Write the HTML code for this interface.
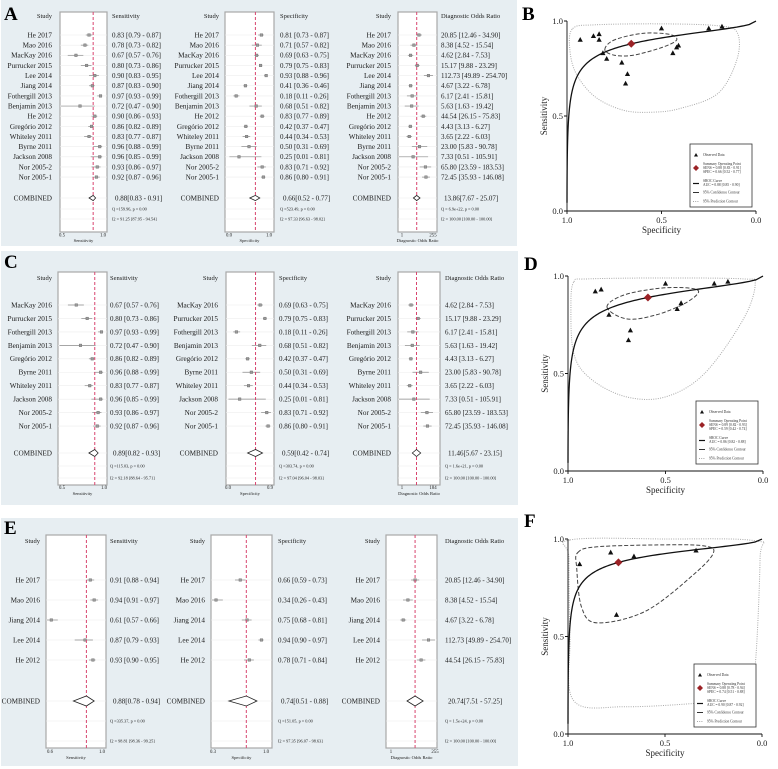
<!DOCTYPE html>
<html><head><meta charset="utf-8"><style>
html,body{margin:0;padding:0;background:#fff;}
svg{display:block;font-family:"Liberation Serif","DejaVu Serif",serif;}
svg text{font-family:"Liberation Serif","DejaVu Serif",serif;}
</style></head><body>
<svg id="fig" width="778" height="769" viewBox="0 0 778 769" xmlns="http://www.w3.org/2000/svg" font-family="Liberation Serif, DejaVu Serif, serif">
<rect x="0" y="0" width="778" height="769" fill="#fff"/>
<rect x="1" y="0" width="516" height="246" fill="#e7eef2"/>
<rect x="1" y="251" width="517" height="254" fill="#e7eef2"/>
<rect x="1" y="518" width="517" height="248" fill="#e7eef2"/>
<text x="4" y="20" font-size="19" font-weight="bold">A</text>
<text x="4" y="268" font-size="19" font-weight="bold">C</text>
<text x="4" y="534" font-size="19" font-weight="bold">E</text>
<text x="522" y="20" font-size="19" font-weight="bold">B</text>
<text x="524" y="270" font-size="19" font-weight="bold">D</text>
<text x="524" y="527" font-size="19" font-weight="bold">F</text>
</svg>
<script>
// ---------- DATA ----------
const A_studies = ["He 2017","Mao 2016","MacKay 2016","Purrucker 2015","Lee 2014","Jiang 2014","Fothergill 2013","Benjamin 2013","He 2012","Gregório 2012","Whiteley 2011","Byrne 2011","Jackson 2008","Nor 2005-2","Nor 2005-1"];
const A_sens   = [0.83,0.78,0.67,0.80,0.90,0.87,0.97,0.72,0.90,0.86,0.83,0.96,0.96,0.93,0.92];
const A_sensLo = [0.79,0.73,0.57,0.73,0.83,0.83,0.93,0.47,0.86,0.82,0.77,0.88,0.85,0.86,0.87];
const A_sensHi = [0.87,0.82,0.76,0.86,0.95,0.90,0.99,0.90,0.93,0.89,0.87,0.99,0.99,0.97,0.96];
const A_spec   = [0.81,0.71,0.69,0.79,0.93,0.41,0.18,0.68,0.83,0.42,0.44,0.50,0.25,0.83,0.86];
const A_specLo = [0.73,0.57,0.63,0.75,0.88,0.36,0.11,0.51,0.77,0.37,0.34,0.31,0.01,0.71,0.80];
const A_specHi = [0.87,0.82,0.75,0.83,0.96,0.46,0.26,0.82,0.89,0.47,0.53,0.69,0.81,0.92,0.91];
const A_dor    = [20.85,8.38,4.62,15.17,112.73,4.67,6.17,5.63,44.54,4.43,3.65,23.00,7.33,65.80,72.45];
const A_dorLo  = [12.46,4.52,2.84,9.88,49.89,3.22,2.41,1.63,26.15,3.13,2.22,5.83,0.51,23.59,35.93];
const A_dorHi  = [34.90,15.54,7.53,23.29,254.70,6.78,15.81,19.42,75.83,6.27,6.03,90.78,105.91,183.53,146.08];
const A_comb   = [[0.88,0.83,0.91],[0.66,0.52,0.77],[13.86,7.67,25.07]];
const A_stats  = [["Q =159.96, p =  0.00","I2 = 91.25 [87.95 - 94.54]"],["Q =523.49, p =  0.00","I2 = 97.33 [96.63 - 98.02]"],["Q = 6.9e+22, p =  0.00","I2 = 100.00 [100.00 - 100.00]"]];
const A_ticks  = [[0.5,1.0],[0.0,1.0],[1,255]];
const A_tickLabels = [["0.5","1.0"],["0.0","1.0"],["1","255"]];

const C_studies = ["MacKay 2016","Purrucker 2015","Fothergill 2013","Benjamin 2013","Gregório 2012","Byrne 2011","Whiteley 2011","Jackson 2008","Nor 2005-2","Nor 2005-1"];
const C_sens   = [0.67,0.80,0.97,0.72,0.86,0.96,0.83,0.96,0.93,0.92];
const C_sensLo = [0.57,0.73,0.93,0.47,0.82,0.88,0.77,0.85,0.86,0.87];
const C_sensHi = [0.76,0.86,0.99,0.90,0.89,0.99,0.87,0.99,0.97,0.96];
const C_spec   = [0.69,0.79,0.18,0.68,0.42,0.50,0.44,0.25,0.83,0.86];
const C_specLo = [0.63,0.75,0.11,0.51,0.37,0.31,0.34,0.01,0.71,0.80];
const C_specHi = [0.75,0.83,0.26,0.82,0.47,0.69,0.53,0.81,0.92,0.91];
const C_dor    = [4.62,15.17,6.17,5.63,4.43,23.00,3.65,7.33,65.80,72.45];
const C_dorLo  = [2.84,9.88,2.41,1.63,3.13,5.83,2.22,0.51,23.59,35.93];
const C_dorHi  = [7.53,23.29,15.81,19.42,6.27,90.78,6.03,105.91,183.53,146.08];
const C_comb   = [[0.89,0.82,0.93],[0.59,0.42,0.74],[11.46,5.67,23.15]];
const C_stats  = [["Q =115.03, p =  0.00","I2 = 92.18 [88.64 - 95.71]"],["Q =303.74, p =  0.00","I2 = 97.04 [96.04 - 98.03]"],["Q = 1.6e+21, p =  0.00","I2 = 100.00 [100.00 - 100.00]"]];
const C_ticks  = [[0.5,1.0],[0.0,0.9],[1,184]];
const C_tickLabels = [["0.5","1.0"],["0.0","0.9"],["1","184"]];

const E_studies = ["He 2017","Mao 2016","Jiang 2014","Lee 2014","He 2012"];
const E_sens   = [0.91,0.94,0.61,0.87,0.93];
const E_sensLo = [0.88,0.91,0.57,0.79,0.90];
const E_sensHi = [0.94,0.97,0.66,0.93,0.95];
const E_spec   = [0.66,0.34,0.75,0.94,0.78];
const E_specLo = [0.59,0.26,0.68,0.90,0.71];
const E_specHi = [0.73,0.43,0.81,0.97,0.84];
const E_dor    = [20.85,8.38,4.67,112.73,44.54];
const E_dorLo  = [12.46,4.52,3.22,49.89,26.15];
const E_dorHi  = [34.90,15.54,6.78,254.70,75.83];
const E_comb   = [[0.88,0.78,0.94],[0.74,0.51,0.88],[20.74,7.51,57.25]];
const E_stats  = [["Q =335.37, p =  0.00","I2 = 98.81 [98.36 - 99.25]"],["Q =151.05, p =  0.00","I2 = 97.35 [96.07 - 98.63]"],["Q = 1.5e+24, p =  0.00","I2 = 100.00 [100.00 - 100.00]"]];
const E_ticks  = [[0.6,1.0],[0.3,1.0],[1,255]];
const E_tickLabels = [["0.6","1.0"],["0.3","1.0"],["1","255"]];

const B_auc = "AUC = 0.88 [0.85 - 0.90]";
const D_auc = "AUC = 0.86 [0.82 - 0.88]";
const F_auc = "AUC = 0.90 [0.87 - 0.92]";
const B_confSpec = [0.80,0.75,0.60,0.46,0.42,0.50,0.65,0.75];
const B_confSens = [0.85,0.90,0.935,0.93,0.90,0.86,0.82,0.82];
const B_predSpec = [0.97,0.85,0.50,0.20,0.10,0.10,0.20,0.40,0.55,0.70,0.85,0.95,0.985];
const B_predSens = [0.96,0.98,0.985,0.975,0.94,0.80,0.62,0.54,0.52,0.53,0.60,0.72,0.85];
const D_confSpec = [0.80,0.72,0.55,0.40,0.33,0.40,0.55,0.70];
const D_confSens = [0.84,0.90,0.935,0.94,0.92,0.86,0.80,0.78];
const D_predSpec = [0.97,0.90,0.50,0.10,0.04,0.10,0.30,0.50,0.70,0.88,0.97,0.985];
const D_predSens = [0.97,0.985,0.99,0.985,0.96,0.78,0.50,0.38,0.38,0.47,0.60,0.85];
const F_confSpec = [0.95,0.85,0.50,0.30,0.25,0.35,0.60,0.85,0.93,0.955];
const F_confSens = [0.93,0.96,0.97,0.965,0.93,0.82,0.63,0.57,0.65,0.85];
const F_predSpec = [0.99,0.50,0.03,0.01,0.04,0.10,0.30,0.70,0.97,0.99,0.995];
const F_predSens = [0.995,1.0,0.99,0.90,0.30,0.18,0.16,0.14,0.17,0.50,0.90];

// ---------- DRAWING ----------
const NS = "http://www.w3.org/2000/svg";
const svg = document.getElementById('fig');
function mk(tag, attrs, parent){
  const e = document.createElementNS(NS, tag);
  for (const k in attrs) e.setAttribute(k, attrs[k]);
  (parent || svg).appendChild(e);
  return e;
}
function f2(v){ return v.toFixed(2); }
function linScale(d0,d1,p0,p1){ return v => p0 + (v-d0)/(d1-d0)*(p1-p0); }
function logScale(d0,d1,p0,p1){ return v => p0 + (Math.log(v)-Math.log(d0))/(Math.log(d1)-Math.log(d0))*(p1-p0); }

function drawForest(name, L, studies, cols){
  const g = mk('g', {});
  
  
  const rowY = i => L.y0 + i*L.dy;
  cols.forEach((c, ci) => {
    const sc = c.log ? logScale(c.ticks[0], c.ticks[1], c.tp0, c.tp1) : linScale(c.ticks[0], c.ticks[1], c.tp0, c.tp1);
    const cg = mk('g', {}, g);
    
    
    let t = mk('text', {x:c.labelX, y:L.hy, 'font-size':6.5, 'text-anchor':'end', fill:'#222'}, cg);
    t.textContent = 'Study';
    
    
    t = mk('text', {x:c.textX, y:L.hy, 'font-size':6.5, fill:'#222'}, cg);
    t.textContent = c.title;
    
    
    const box = mk('rect', {x:c.boxL, y:L.boxT, width:c.boxR-c.boxL, height:L.boxB-L.boxT, fill:'#fff', stroke:'#a8a8a8', 'stroke-width':1.2}, cg);
    
    
    const rows = studies.map((s,i)=>rowY(i)).concat([L.cy, L.qy, L.iy]);
    rows.forEach(y => {
      const gl = mk('line', {x1:c.boxL, x2:c.boxR, y1:y, y2:y, stroke:'#eee', 'stroke-width':0.6}, cg);
      
      
    });
    const clip = x => Math.max(c.boxL+1, Math.min(c.boxR-1, x));
    studies.forEach((s, i) => {
      const y = rowY(i);
      const lb = mk('text', {x:c.labelX, y:y+2.4, 'font-size':7.2, 'text-anchor':'end', fill:'#1a1a1a'}, cg);
      lb.textContent = s;
      
      
      const ci_ = mk('line', {x1:clip(sc(c.lo[i])), x2:clip(sc(c.hi[i])), y1:y, y2:y, stroke:'#8a8a8a', 'stroke-width':0.7}, cg);
      
      
      const pt = mk('rect', {x:sc(c.vals[i])-1.3, y:y-1.3, width:2.6, height:2.6, fill:'#9a9a9a', stroke:'#666', 'stroke-width':0.4}, cg);
      
      
      const vt = mk('text', {x:c.textX, y:y+2.4, 'font-size':7, fill:'#1a1a1a'}, cg);
      vt.textContent = f2(c.vals[i]) + ' [' + f2(c.lo[i]) + ' - ' + f2(c.hi[i]) + ']';
      
      
    });
    const cv = c.comb;
    const dl = mk('line', {x1:sc(cv[0]), x2:sc(cv[0]), y1:L.boxT, y2:L.boxB, stroke:'#d8456f', 'stroke-width':1, 'stroke-dasharray':'3,2'}, cg);
    
    
    const h = L.dh;
    const dm = mk('polygon', {points:[sc(cv[1])+','+L.cy, sc(cv[0])+','+(L.cy-h), sc(cv[2])+','+L.cy, sc(cv[0])+','+(L.cy+h)].join(' '), fill:'#fff', stroke:'#222', 'stroke-width':0.8}, cg);
    
    
    let cl = mk('text', {x:c.labelX, y:L.cy+2.4, 'font-size':7.2, 'text-anchor':'end', fill:'#1a1a1a'}, cg);
    cl.textContent = 'COMBINED';
    
    
    cl = mk('text', {x:c.textX+3, y:L.cy+2.4, 'font-size':7, fill:'#1a1a1a'}, cg);
    cl.textContent = f2(cv[0]) + '[' + f2(cv[1]) + ' - ' + f2(cv[2]) + ']';
    
    
    cl = mk('text', {x:c.textX, y:L.qy+1.5, 'font-size':4.3, fill:'#222'}, cg);
    cl.textContent = c.stats[0];
    
    
    cl = mk('text', {x:c.textX, y:L.iy+1.5, 'font-size':4.3, fill:'#222'}, cg);
    cl.textContent = c.stats[1];
    
    
    c.ticks.forEach((tv, k) => {
      const tl = mk('text', {x:sc(tv), y:L.ty, 'font-size':4.8, 'text-anchor':'middle', fill:'#222'}, cg);
      tl.textContent = c.tickLabels[k];
      
      
    });
    const at = mk('text', {x:(c.boxL+c.boxR)/2, y:L.ay, 'font-size':4.6, 'text-anchor':'middle', fill:'#222'}, cg);
    at.textContent = c.axisTitle;
    
    
  });
}

function cols(L, sens, sensLo, sensHi, spec, specLo, specHi, dor, dorLo, dorHi, comb, stats, ticks, tls){
  return [
    Object.assign({key:'sensitivity', title:'Sensitivity', axisTitle:'Sensitivity', vals:sens, lo:sensLo, hi:sensHi, comb:comb[0], stats:stats[0], ticks:ticks[0], tickLabels:tls[0], log:false}, L.c[0]),
    Object.assign({key:'specificity', title:'Specificity', axisTitle:'Specificity', vals:spec, lo:specLo, hi:specHi, comb:comb[1], stats:stats[1], ticks:ticks[1], tickLabels:tls[1], log:false}, L.c[1]),
    Object.assign({key:'dor', title:'Diagnostic Odds Ratio', axisTitle:'Diagnostic Odds Ratio', vals:dor, lo:dorLo, hi:dorHi, comb:comb[2], stats:stats[2], ticks:ticks[2], tickLabels:tls[2], log:true}, L.c[2])
  ];
}

const LA = {hy:18, y0:35, dy:10.15, cy:198, qy:209, iy:219, boxT:12, boxB:232, ty:236.5, ay:242, dh:2.6,
  c:[{labelX:52, boxL:60, boxR:107, textX:112, tp0:62, tp1:103},
     {labelX:219, boxL:225, boxR:274, textX:280, tp0:229, tp1:269},
     {labelX:391, boxL:398, boxR:437, textX:441, tp0:402, tp1:433}]};
const LC = {hy:280, y0:305, dy:13.45, cy:453, qy:466, iy:478, boxT:272, boxB:485, ty:489, ay:495, dh:3.5,
  c:[{labelX:52, boxL:58, boxR:107, textX:110, tp0:62, tp1:104},
     {labelX:218, boxL:226, boxR:274, textX:279, tp0:228, tp1:270},
     {labelX:391, boxL:398, boxR:440, textX:445, tp0:402, tp1:433}]};
const LE = {hy:543, y0:580, dy:20, cy:701, qy:721, iy:741, boxT:535, boxB:748, ty:753, ay:759, dh:5,
  c:[{labelX:40, boxL:46, boxR:106, textX:110, tp0:50, tp1:102},
     {labelX:205, boxL:211, boxR:272, textX:278, tp0:213, tp1:266},
     {labelX:380, boxL:386, boxR:437, textX:445, tp0:391, tp1:435}]};

drawForest('panel-a', LA, A_studies, cols(LA, A_sens,A_sensLo,A_sensHi,A_spec,A_specLo,A_specHi,A_dor,A_dorLo,A_dorHi,A_comb,A_stats,A_ticks,A_tickLabels));
drawForest('panel-c', LC, C_studies, cols(LC, C_sens,C_sensLo,C_sensHi,C_spec,C_specLo,C_specHi,C_dor,C_dorLo,C_dorHi,C_comb,C_stats,C_ticks,C_tickLabels));
drawForest('panel-e', LE, E_studies, cols(LE, E_sens,E_sensLo,E_sensHi,E_spec,E_specLo,E_specHi,E_dor,E_dorLo,E_dorHi,E_comb,E_stats,E_ticks,E_tickLabels));

// ---------- SROC ----------
function smoothClosed(pts){
  const n = pts.length; let d = 'M' + pts[0][0] + ',' + pts[0][1];
  for (let i=0;i<n;i++){
    const p0=pts[(i-1+n)%n], p1=pts[i], p2=pts[(i+1)%n], p3=pts[(i+2)%n];
    const c1=[p1[0]+(p2[0]-p0[0])/6, p1[1]+(p2[1]-p0[1])/6];
    const c2=[p2[0]-(p3[0]-p1[0])/6, p2[1]-(p3[1]-p1[1])/6];
    d += ' C'+c1[0]+','+c1[1]+' '+c2[0]+','+c2[1]+' '+p2[0]+','+p2[1];
  }
  return d + 'Z';
}
function logit(p){ return Math.log(p/(1-p)); }
function drawSROC(name, P, spec, sens, comb, auc, confSpec, confSens, predSpec, predSens){
  const g = mk('g', {});
  
  
  const X = linScale(1, 0, P.x0, P.x1), Y = linScale(1, 0, P.yT, P.yB);
  const pred = mk('path', {d:smoothClosed(predSpec.map((s,i)=>[X(s),Y(predSens[i])])), fill:'none', stroke:'#aaa', 'stroke-width':1, 'stroke-dasharray':'1,1.3'}, g);
  
  
  const conf = mk('path', {d:smoothClosed(confSpec.map((s,i)=>[X(s),Y(confSens[i])])), fill:'none', stroke:'#444', 'stroke-width':1, 'stroke-dasharray':'4,2'}, g);
  
  
  const b = 0.5, a = logit(comb[0][0]) - b*logit(1-comb[1][0]);
  let d = '';
  for (let k=0;k<=300;k++){
    const fpr = Math.exp(Math.log(0.00002) + k/300*(Math.log(0.99999)-Math.log(0.00002)));
    const se = 1/(1+Math.exp(-(a + b*logit(fpr))));
    d += (k?'L':'M') + X(1-fpr).toFixed(2) + ',' + Y(se).toFixed(2);
  }
  const curve = mk('path', {d:d, fill:'none', stroke:'#111', 'stroke-width':1.3}, g);
  
  
  spec.forEach((s,i)=>{
    const x=X(s), y=Y(sens[i]);
    const tri = mk('polygon', {points:(x)+','+(y-3)+' '+(x-2.6)+','+(y+1.8)+' '+(x+2.6)+','+(y+1.8), fill:'#111'}, g);
    
    
  });
  const sx=X(comb[1][0]), sy=Y(comb[0][0]);
  const sp = mk('polygon', {points:sx+','+(sy-4)+' '+(sx+4)+','+sy+' '+sx+','+(sy+4)+' '+(sx-4)+','+sy, fill:'#9b2226'}, g);
  
  
  const ax = mk('path', {d:'M'+P.x0+','+P.yT+' L'+P.x0+','+P.yB+' L'+P.x1+','+P.yB+' M'+(P.x0-3)+','+P.yT+' L'+P.x0+','+P.yT+' M'+(P.x0-3)+','+Y(0.5)+' L'+P.x0+','+Y(0.5)+' M'+(P.x0-3)+','+P.yB+' L'+P.x0+','+P.yB+' M'+P.x0+','+P.yB+' L'+P.x0+','+(P.yB+3)+' M'+X(0.5)+','+P.yB+' L'+X(0.5)+','+(P.yB+3)+' M'+P.x1+','+P.yB+' L'+P.x1+','+(P.yB+3), fill:'none', stroke:'#111', 'stroke-width':0.9}, g);
  
  
  [1,0.5,0].forEach(v=>{
    let t = mk('text', {x:P.x0-4, y:Y(v)+3, 'font-size':8.5, 'text-anchor':'end', fill:'#222'}, g);
    t.textContent = v.toFixed(1);
    
    
    t = mk('text', {x:X(v), y:P.yB+12, 'font-size':8.5, 'text-anchor':'middle', fill:'#222'}, g);
    t.textContent = v.toFixed(1);
    
    
  });
  let t = mk('text', {x:(P.x0+P.x1)/2, y:P.yB+22, 'font-size':9, 'text-anchor':'middle', fill:'#222'}, g);
  t.textContent = 'Specificity';
  
  
  const ym = (P.yT+P.yB)/2;
  t = mk('text', {x:P.x0-20, y:ym, 'font-size':9, 'text-anchor':'middle', fill:'#222', transform:'rotate(-90 '+(P.x0-20)+' '+ym+')'}, g);
  t.textContent = 'Sensitivity';
  
  
  const lg = mk('g', {}, g);
  
  
  const lb = mk('rect', {x:P.lx, y:P.ly, width:62, height:63, fill:'#fff', stroke:'#333', 'stroke-width':0.8}, lg);
  
  
  const L = (dy, lines) => { lines.forEach((s,k)=>{ const tt = mk('text', {x:P.lx+13, y:P.ly+dy+k*4, 'font-size':3.6, fill:'#333'}, lg); tt.textContent = s;
    
     }); };
  const lx = P.lx+6, ly = P.ly;
  let m = mk('polygon', {points:lx+','+(ly+9)+' '+(lx-2)+','+(ly+12.5)+' '+(lx+2)+','+(ly+12.5), fill:'#111'}, lg);
  
  
  L(12, ['Observed Data']);
  m = mk('polygon', {points:lx+','+(ly+21)+' '+(lx+3)+','+(ly+24)+' '+lx+','+(ly+27)+' '+(lx-3)+','+(ly+24), fill:'#9b2226'}, lg);
  
  
  L(21, ['Summary Operating Point', 'SENS = '+f2(comb[0][0])+' ['+f2(comb[0][1])+' - '+f2(comb[0][2])+']', 'SPEC = '+f2(comb[1][0])+' ['+f2(comb[1][1])+' - '+f2(comb[1][2])+']']);
  m = mk('line', {x1:lx-3, x2:lx+3, y1:ly+39.5, y2:ly+39.5, stroke:'#111', 'stroke-width':1.2}, lg);
  
  
  L(38, ['SROC Curve', auc]);
  m = mk('line', {x1:lx-3, x2:lx+3, y1:ly+48.5, y2:ly+48.5, stroke:'#333', 'stroke-width':1}, lg);
  
  
  L(49.5, ['95% Confidence Contour']);
  m = mk('line', {x1:lx-3, x2:lx+3, y1:ly+57.5, y2:ly+57.5, stroke:'#888', 'stroke-width':0.8, 'stroke-dasharray':'1,1.2'}, lg);
  
  
  L(58.5, ['95% Prediction Contour']);
}
drawSROC('panel-b', {x0:567, x1:756, yT:21, yB:211, lx:690, ly:144}, A_spec, A_sens, A_comb, B_auc, B_confSpec, B_confSens, B_predSpec, B_predSens);
drawSROC('panel-d', {x0:568, x1:763, yT:276, yB:471, lx:696, ly:401}, C_spec, C_sens, C_comb, D_auc, D_confSpec, D_confSens, D_predSpec, D_predSens);
drawSROC('panel-f', {x0:568, x1:762, yT:539, yB:734, lx:694, ly:664}, E_spec, E_sens, E_comb, F_auc, F_confSpec, F_confSens, F_predSpec, F_predSens);
</script>
</body></html>
